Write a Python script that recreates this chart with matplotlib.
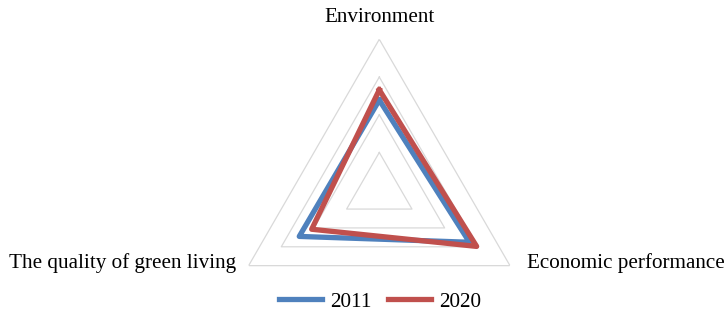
import numpy as np
import matplotlib
matplotlib.use("Agg")
import matplotlib.pyplot as plt

categories = ["Environment", "Economic performance", "The quality of green living"]
values_2011 = [2.39, 2.76, 2.45]
values_2020 = [2.66, 2.98, 2.07]
series_names = ["2011", "2020"]
grid_levels = [1, 2, 3, 4]

plt.rcParams['font.family'] = ['Liberation Serif', 'DejaVu Serif']

W, H = 728, 317
fig = plt.figure(figsize=(W / 100, H / 100), dpi=100)
cx, cy, R = 379.3, 190.2, 150.9
ax = fig.add_axes([(cx - R) / W, (H - cy - R) / H, 2 * R / W, 2 * R / H], projection='polar')
ax.set_theta_offset(np.pi / 2)
ax.set_theta_direction(-1)
ax.set_ylim(0, 4)
ax.axis('off')

n = len(categories)
angles = np.arange(n) * 2 * np.pi / n
ang_closed = np.append(angles, angles[0])

for lv in grid_levels:
    ax.plot(ang_closed, [lv] * (n + 1), color='#D9D9D9', lw=0.9, zorder=1)

colors = ['#4F81BD', '#C0504D']
handles = []
for vals, c, name in zip([values_2011, values_2020], colors, series_names):
    v = np.append(vals, vals[0])
    h, = ax.plot(ang_closed, v, color=c, lw=3.8, solid_joinstyle='round', label=name, zorder=3)
    handles.append(h)

fs = 15.2
fig.text(380 / W, 1 - 18 / H, categories[0], ha='center', va='center', fontsize=fs)
fig.text(527 / W, 1 - 263 / H, categories[1], ha='left', va='center', fontsize=fs)
fig.text(236 / W, 1 - 263 / H, categories[2], ha='right', va='center', fontsize=fs)

fig.legend(handles=handles, labels=series_names, loc='center', bbox_to_anchor=(380 / W, 1 - 302 / H),
           ncol=2, frameon=False, fontsize=fs, handlelength=2.05, handletextpad=0.38, columnspacing=0.8,
           borderaxespad=0, borderpad=0)

fig.savefig('out.png', dpi=100)
